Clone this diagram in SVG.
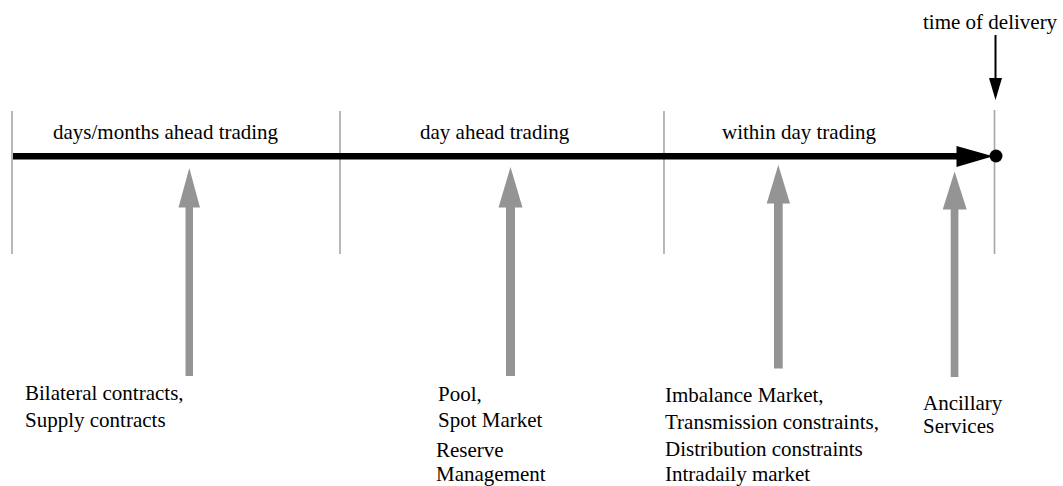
<svg xmlns="http://www.w3.org/2000/svg" width="1063" height="486" viewBox="0 0 1063 486">
  <style>
    .lbl { font-family: "Liberation Serif", "Times New Roman", serif; font-size: 21px; fill: #000; }
    .tick { stroke: #a6a6a6; stroke-width: 1.6; fill: none; }
    .feed { fill: #949494; }
  </style>
  <rect width="1063" height="486" fill="#fff"/>

  <!-- period boundaries -->
  <g id="boundaries">
    <line class="tick" x1="12" y1="111" x2="12" y2="254"/>
    <line class="tick" x1="340" y1="111" x2="340" y2="254"/>
    <line class="tick" x1="664" y1="111" x2="664" y2="254"/>
    <line class="tick" x1="994.5" y1="110" x2="994.5" y2="254"/>
  </g>

  <!-- period labels -->
  <g id="period-labels">
    <text class="lbl" x="53" y="139">days/months ahead trading</text>
    <text class="lbl" x="420" y="139">day ahead trading</text>
    <text class="lbl" x="722" y="139">within day trading</text>
  </g>

  <!-- time axis -->
  <g id="connectors">
    <line x1="13" y1="156.3" x2="962" y2="156.3" stroke="#000" stroke-width="6.5"/>
    <polygon points="956.5,146 993,156.3 956.5,167" fill="#000"/>
    <circle cx="996" cy="156" r="6.5" fill="#000"/>

    <!-- delivery marker -->
    <line x1="995.5" y1="35" x2="995.5" y2="80" stroke="#000" stroke-width="2"/>
    <polygon points="989,78 1002,78 995.5,100" fill="#000"/>

    <!-- market arrows -->
    <g id="arrow-bilateral">
      <rect class="feed" x="185.5" y="205" width="7.5" height="171"/>
      <polygon class="feed" points="178.5,207.5 200,207.5 189.3,168"/>
    </g>
    <g id="arrow-pool">
      <rect class="feed" x="506" y="205" width="9" height="171"/>
      <polygon class="feed" points="498.5,207.5 522.5,207.5 510.5,167"/>
    </g>
    <g id="arrow-imbalance">
      <rect class="feed" x="774" y="201" width="8.7" height="167.5"/>
      <polygon class="feed" points="766.7,203.5 790,203.5 778.3,165"/>
    </g>
    <g id="arrow-ancillary">
      <rect class="feed" x="950.7" y="207" width="7.7" height="170"/>
      <polygon class="feed" points="942.7,209.5 966.7,209.5 954.6,171.5"/>
    </g>
  </g>

  <g id="node-delivery">
    <text class="lbl" x="923" y="29">time of delivery</text>
  </g>

  <g id="node-bilateral">
    <text class="lbl" x="25" y="399.5">Bilateral contracts,</text>
    <text class="lbl" x="25" y="426.5">Supply contracts</text>
  </g>

  <g id="node-pool">
    <text class="lbl" x="438" y="400.5">Pool,</text>
    <text class="lbl" x="438" y="427">Spot Market</text>
    <text class="lbl" x="436" y="457">Reserve</text>
    <text class="lbl" x="436" y="480.5">Management</text>
  </g>

  <g id="node-imbalance">
    <text class="lbl" x="665" y="401.5">Imbalance Market,</text>
    <text class="lbl" x="665" y="429">Transmission constraints,</text>
    <text class="lbl" x="665" y="456">Distribution constraints</text>
    <text class="lbl" x="665" y="480.5">Intradaily market</text>
  </g>

  <g id="node-ancillary">
    <text class="lbl" x="923" y="410">Ancillary</text>
    <text class="lbl" x="923" y="433">Services</text>
  </g>
</svg>
